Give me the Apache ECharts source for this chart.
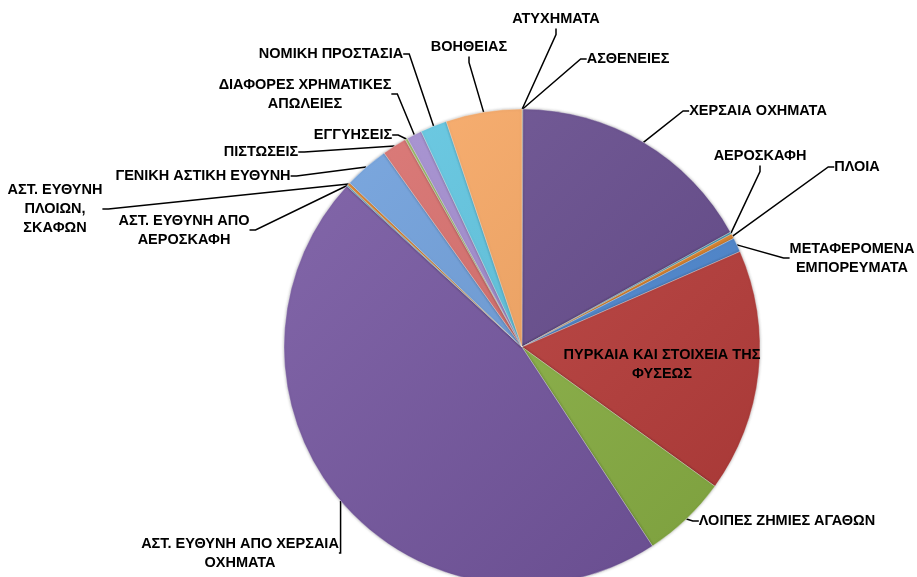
<!DOCTYPE html>
<html lang="el">
<head>
    <meta charset="UTF-8">
    <script type="text/javascript" src="https://cdn.jsdelivr.net/npm/echarts@6/dist/echarts.min.js"></script>
    <style>
        html, body { margin: 0; padding: 0; background: #fff; }
        #pieChart { width: 917px; height: 577px; }
    </style>
</head>
<body>
    <div id="pieChart"></div>
</body>

<script>
    // κατηγορίες κλάδων (με τη σειρά του γραφήματος, δεξιόστροφα από πάνω)
    var categories = [
        "ΑΤΥΧΗΜΑΤΑ",
        "ΑΣΘΕΝΕΙΕΣ",
        "ΧΕΡΣΑΙΑ ΟΧΗΜΑΤΑ",
        "ΑΕΡΟΣΚΑΦΗ",
        "ΠΛΟΙΑ",
        "ΜΕΤΑΦΕΡΟΜΕΝΑ\nΕΜΠΟΡΕΥΜΑΤΑ",
        "ΠΥΡΚΑΙΑ ΚΑΙ ΣΤΟΙΧΕΙΑ ΤΗΣ\nΦΥΣΕΩΣ",
        "ΛΟΙΠΕΣ ΖΗΜΙΕΣ ΑΓΑΘΩΝ",
        "ΑΣΤ. ΕΥΘΥΝΗ ΑΠΟ ΧΕΡΣΑΙΑ\nΟΧΗΜΑΤΑ",
        "ΑΣΤ. ΕΥΘΥΝΗ ΑΠΟ\nΑΕΡΟΣΚΑΦΗ",
        "ΑΣΤ. ΕΥΘΥΝΗ\nΠΛΟΙΩΝ,\nΣΚΑΦΩΝ",
        "ΓΕΝΙΚΗ ΑΣΤΙΚΗ ΕΥΘΥΝΗ",
        "ΠΙΣΤΩΣΕΙΣ",
        "ΕΓΓΥΗΣΕΙΣ",
        "ΔΙΑΦΟΡΕΣ ΧΡΗΜΑΤΙΚΕΣ\nΑΠΩΛΕΙΕΣ",
        "ΝΟΜΙΚΗ ΠΡΟΣΤΑΣΙΑ",
        "ΒΟΗΘΕΙΑΣ"
    ];

    // μερίδια (%) όπως διαβάζονται από το γράφημα
    var shares = [0.03, 0.03, 16.9, 0.14, 0.33, 0.97, 16.5, 5.8, 46.0, 0.08, 0.2, 3.05, 1.67, 0.17, 1.03, 1.8, 5.15];

    // χρώματα φετών
    var sliceColors = ["#C0504D", "#9BBB59", "#684D90", "#4BACC6", "#E8892E", "#4F8BD6", "#BD3F3C", "#8DB545",
        "#7556A1", "#4BACC6", "#E8892E", "#6E9FDD", "#D96E6C", "#A5C86A", "#A38CD0", "#5FC6E2", "#F9A863"];

    // θέσεις ετικετών (κέντρο κειμένου)
    var labelPos = [[556, 19], [628, 59], [758, 111], [760, 156], [857, 167], [852, 258], [662, 364], [787, 521],
        [240, 553], [184, 230], [55, 209], [203, 176], [261, 152], [353, 135], [305, 94], [331, 54], [469, 47]];

    var insideLabel = 6;

    // ανοιχτότερο / σκουρότερο χρώμα για το "φωτισμό"
    function shade(hex, f) {
        var n = parseInt(hex.slice(1), 16);
        var c = [(n >> 16) & 255, (n >> 8) & 255, n & 255];
        for (var k = 0; k < 3; k++) {
            c[k] = f > 0 ? Math.round(c[k] + (255 - c[k]) * f) : Math.round(c[k] * (1 + f));
        }
        return "rgb(" + c.join(",") + ")";
    }

    var pieChart = echarts.init(document.getElementById("pieChart"));

    var pieData = [];
    for (var i = 0; i < categories.length; i++) {
        var col = sliceColors[i];
        var item = {
            name: categories[i],
            value: shares[i],
            itemStyle: {
                color: new echarts.graphic.LinearGradient(300, 130, 740, 570, [
                    { offset: 0, color: shade(col, 0.1) },
                    { offset: 1, color: shade(col, -0.12) }
                ], true)
            }
        };
        if (i === insideLabel) {
            item.labelLine = { show: false };
        }
        pieData.push(item);
    }

    var option = {
        backgroundColor: "#ffffff",
        animation: false,
        series: [{
            type: "pie",
            center: [522, 347],
            radius: 238,
            startAngle: 90,
            clockwise: true,
            avoidLabelOverlap: false,
            data: pieData,
            itemStyle: {
                borderColor: "rgba(255,255,255,0.3)",
                borderWidth: 1,
                shadowBlur: 3,
                shadowColor: "rgba(0,0,0,0.3)"
            },
            label: {
                show: true,
                position: "outside",
                formatter: "{b}",
                color: "#000",
                fontFamily: "Liberation Sans",
                fontWeight: "bold",
                fontSize: 14.5,
                lineHeight: 19,
                align: "center"
            },
            labelLine: {
                show: true,
                length: 10,
                length2: 6,
                lineStyle: { color: "#000", width: 1.5 }
            },
            labelLayout: function (params) {
                var p = labelPos[params.dataIndex];
                return {
                    x: p[0],
                    y: p[1],
                    align: "center",
                    verticalAlign: "middle"
                };
            }
        }]
    };

    pieChart.setOption(option);
</script>
</html>
